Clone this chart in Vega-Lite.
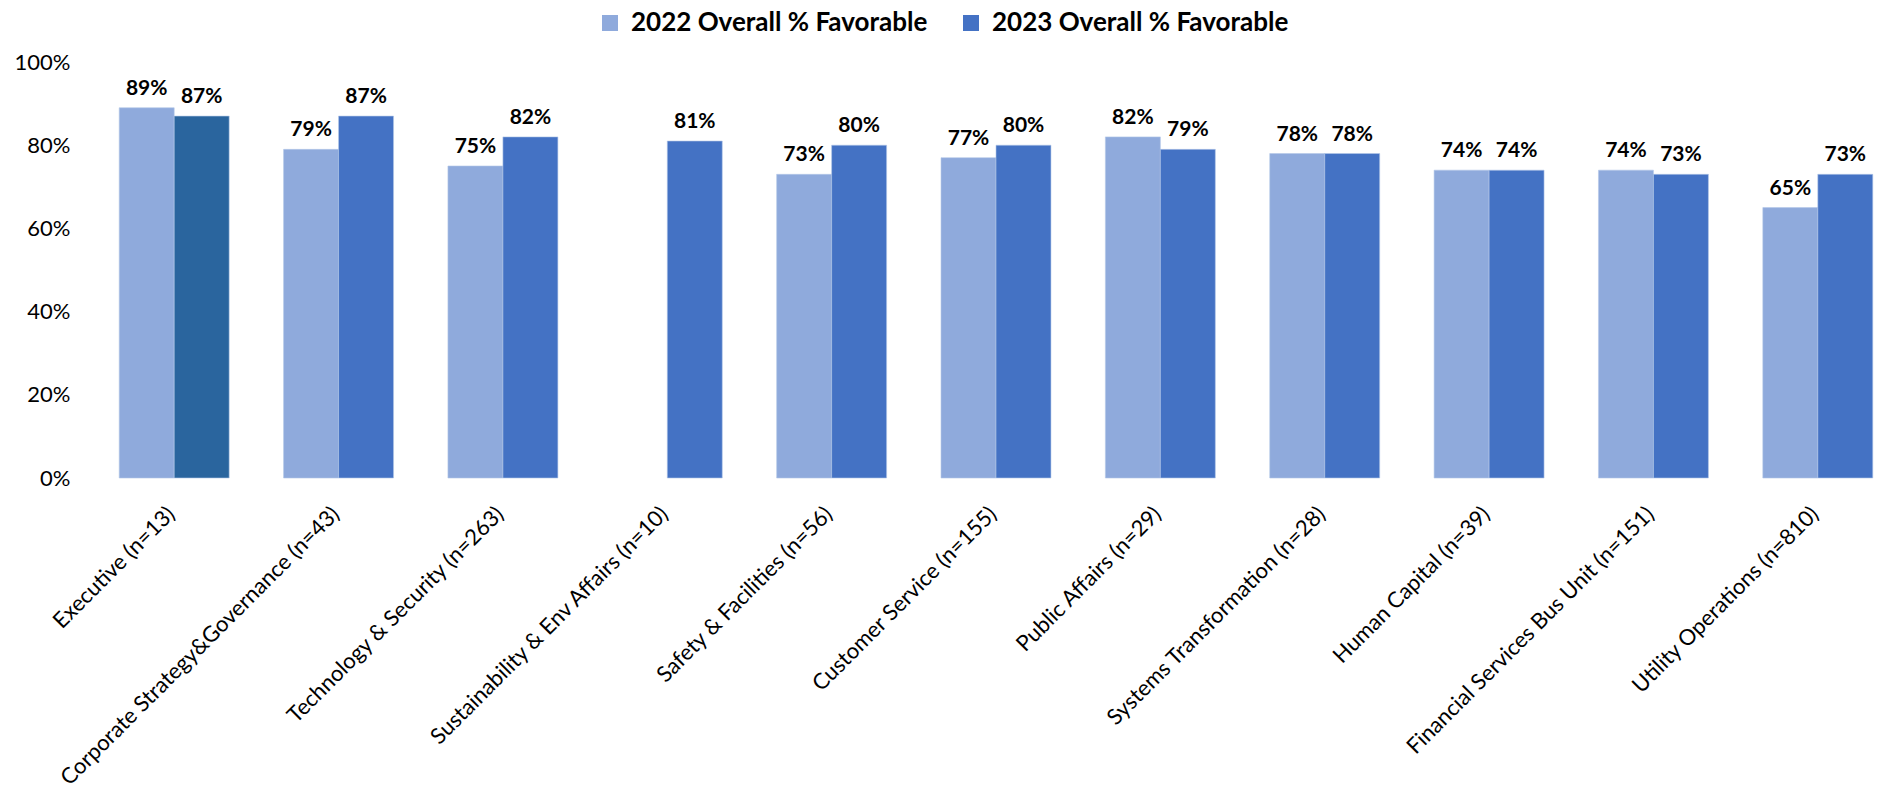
{
  "$schema": "https://vega.github.io/schema/vega-lite/v6.json",
  "autosize": {"type": "none"},
  "width": 1770,
  "height": 416,
  "padding": {"left": 111, "top": 62, "right": 0, "bottom": 322},
  "background": "white",
  "config": {
    "font": "Lato",
    "view": {"stroke": null}
  },
  "data": {
    "values": [
      {"dept": "Executive (n=13)", "series": "2022 Overall % Favorable", "value": 0.89},
      {"dept": "Executive (n=13)", "series": "2023 Overall % Favorable", "value": 0.87},
      {"dept": "Corporate Strategy&Governance (n=43)", "series": "2022 Overall % Favorable", "value": 0.79},
      {"dept": "Corporate Strategy&Governance (n=43)", "series": "2023 Overall % Favorable", "value": 0.87},
      {"dept": "Technology & Security (n=263)", "series": "2022 Overall % Favorable", "value": 0.75},
      {"dept": "Technology & Security (n=263)", "series": "2023 Overall % Favorable", "value": 0.82},
      {"dept": "Sustainability & Env Affairs (n=10)", "series": "2023 Overall % Favorable", "value": 0.81},
      {"dept": "Safety & Facilities (n=56)", "series": "2022 Overall % Favorable", "value": 0.73},
      {"dept": "Safety & Facilities (n=56)", "series": "2023 Overall % Favorable", "value": 0.80},
      {"dept": "Customer Service (n=155)", "series": "2022 Overall % Favorable", "value": 0.77},
      {"dept": "Customer Service (n=155)", "series": "2023 Overall % Favorable", "value": 0.80},
      {"dept": "Public Affairs (n=29)", "series": "2022 Overall % Favorable", "value": 0.82},
      {"dept": "Public Affairs (n=29)", "series": "2023 Overall % Favorable", "value": 0.79},
      {"dept": "Systems Transformation (n=28)", "series": "2022 Overall % Favorable", "value": 0.78},
      {"dept": "Systems Transformation (n=28)", "series": "2023 Overall % Favorable", "value": 0.78},
      {"dept": "Human Capital (n=39)", "series": "2022 Overall % Favorable", "value": 0.74},
      {"dept": "Human Capital (n=39)", "series": "2023 Overall % Favorable", "value": 0.74},
      {"dept": "Financial Services Bus Unit (n=151)", "series": "2022 Overall % Favorable", "value": 0.74},
      {"dept": "Financial Services Bus Unit (n=151)", "series": "2023 Overall % Favorable", "value": 0.73},
      {"dept": "Utility Operations (n=810)", "series": "2022 Overall % Favorable", "value": 0.65},
      {"dept": "Utility Operations (n=810)", "series": "2023 Overall % Favorable", "value": 0.73}
    ]
  },
  "encoding": {
    "x": {
      "field": "dept",
      "type": "nominal",
      "sort": null,
      "scale": {"paddingInner": 0.331, "paddingOuter": 0.05},
      "axis": {
        "title": null,
        "labelAngle": -45,
        "labelFontSize": 22,
        "labelColor": "#000000",
        "labelPadding": 25,
        "labelOffset": -10,
        "ticks": false,
        "domain": false,
        "labelLimit": 600
      }
    },
    "xOffset": {
      "field": "series",
      "type": "nominal",
      "scale": {"domain": ["2022 Overall % Favorable", "2023 Overall % Favorable"], "paddingInner": 0, "paddingOuter": 0}
    },
    "y": {
      "field": "value",
      "type": "quantitative",
      "scale": {"domain": [0, 1]},
      "axis": {
        "title": null,
        "format": ".0%",
        "values": [0, 0.2, 0.4, 0.6, 0.8, 1],
        "grid": false,
        "ticks": false,
        "domain": false,
        "labelFontSize": 22,
        "labelColor": "#000000",
        "labelPadding": 41
      }
    }
  },
  "layer": [
    {
      "mark": {"type": "bar", "stroke": "#B4C7E7", "strokeWidth": 0.6},
      "encoding": {
        "color": {
          "condition": {"test": "datum.dept === 'Executive (n=13)' && datum.series === '2023 Overall % Favorable'", "value": "#2A659E"},
          "field": "series",
          "type": "nominal",
          "scale": {"domain": ["2022 Overall % Favorable", "2023 Overall % Favorable"], "range": ["#8FAADC", "#4472C4"]},
          "legend": {
            "title": null,
            "orient": "none",
            "legendX": 486,
            "legendY": -52,
            "direction": "horizontal",
            "symbolType": "square",
            "symbolSize": 256,
            "symbolStrokeWidth": 0,
            "labelFontSize": 26,
            "labelFontWeight": "bold",
            "labelColor": "#000000",
            "labelLimit": 500,
            "labelOffset": 8,
            "columnPadding": 30,
            "symbolOffset": 0
          }
        }
      }
    },
    {
      "mark": {"type": "text", "baseline": "bottom", "dy": -9, "fontSize": 21, "fontWeight": "bold", "color": "#000000"},
      "encoding": {
        "text": {"field": "value", "type": "quantitative", "format": ".0%"}
      }
    }
  ]
}
